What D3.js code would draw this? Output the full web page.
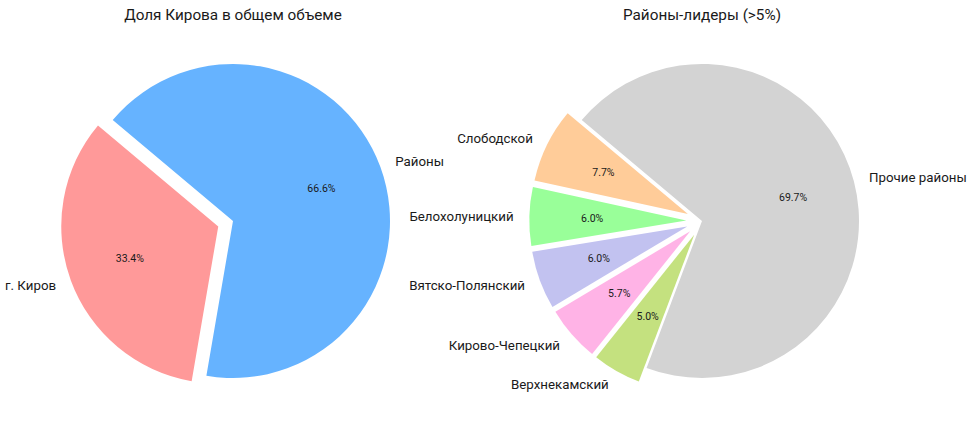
<!DOCTYPE html>
<html>
<head>
<meta charset="utf-8">
<script src="https://cdn.jsdelivr.net/npm/d3@7"></script>
<style>
  body { margin: 0; background: #fff; }
  svg text { font-family: Roboto, "Open Sans", sans-serif; fill: #1a1a1a; }
</style>
</head>
<body>
<svg id="chart" width="975" height="425"></svg>
<script>
// left pie: Kirov vs districts
var leftLabels = ["г. Киров", "Районы"];
var leftValues = [33.4, 66.6];
var leftColors = ["#ff9999", "#66b3ff"];
var leftExplode = [0.1, 0];

// right pie: leading districts
var rightLabels = ["Слободской", "Белохолуницкий", "Вятско-Полянский", "Кирово-Чепецкий", "Верхнекамский", "Прочие районы"];
var rightValues = [7.7, 6.0, 6.0, 5.7, 5.0, 69.7];
var rightColors = ["#ffcc99", "#99ff99", "#c2c2f0", "#ffb3e6", "#c4e17f", "#d3d3d3"];
var rightExplode = [0.1, 0.1, 0.1, 0.1, 0.1, 0];

var svg = d3.select("#chart");
var R = 157;

//***************************************************************************
// one pie, drawn matplotlib style (startangle 140, counterclockwise)

function drawPie(cx, cy, title, labels, values, colors, explode) {

	var g = svg.append("g").attr("transform", "translate(" + cx + "," + cy + ")");

	var start = Math.PI / 2 - 140 * Math.PI / 180;
	var pie = d3.pie()
		.sort(null)
		.startAngle(start)
		.endAngle(start - 2 * Math.PI);

	var arcs = pie(values);
	var arc = d3.arc().innerRadius(0).outerRadius(R);

	arcs.forEach(function(d, i) {
		var m = (d.startAngle + d.endAngle) / 2;
		var ex = explode[i] * R;
		var ox = ex * Math.sin(m), oy = -ex * Math.cos(m);

		g.append("path")
			.attr("d", arc(d))
			.attr("transform", "translate(" + ox + "," + oy + ")")
			.attr("fill", colors[i]);

		var lx = ox + 1.1 * R * Math.sin(m);
		var ly = oy - 1.1 * R * Math.cos(m);
		g.append("text")
			.attr("x", lx)
			.attr("y", ly)
			.attr("dy", "0.35em")
			.attr("text-anchor", lx < 0 ? "end" : "start")
			.style("font-size", "13.3px")
			.text(labels[i]);

		g.append("text")
			.attr("x", ox + 0.6 * R * Math.sin(m))
			.attr("y", oy - 0.6 * R * Math.cos(m))
			.attr("dy", "0.35em")
			.attr("text-anchor", "middle")
			.style("font-size", "10.5px")
			.text(d3.format(".1f")(values[i]) + "%");
	});

	svg.append("text")
		.attr("x", cx)
		.attr("y", 15)
		.attr("dy", "0.35em")
		.attr("text-anchor", "middle")
		.style("font-size", "15.3px")
		.text(title);
}

drawPie(233, 221, "Доля Кирова в общем объеме", leftLabels, leftValues, leftColors, leftExplode);
drawPie(702, 221, "Районы-лидеры (>5%)", rightLabels, rightValues, rightColors, rightExplode);
</script>
</body>
</html>
